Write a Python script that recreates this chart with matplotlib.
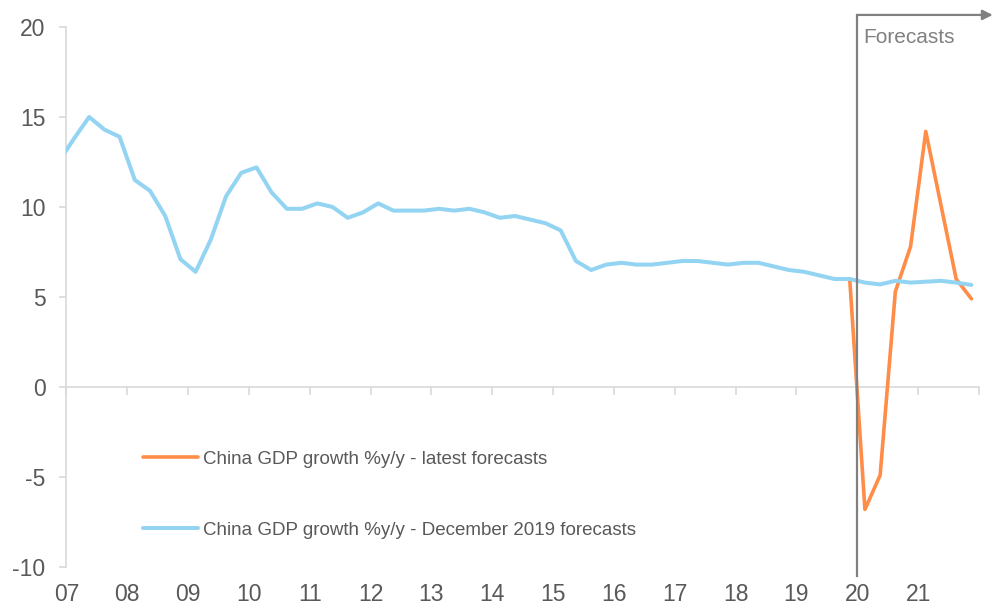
import numpy as np
import matplotlib
matplotlib.use("Agg")
import matplotlib.pyplot as plt

plt.rcParams['font.family'] = ['Liberation Sans', 'DejaVu Sans']
plt.rcParams['axes.unicode_minus'] = False

# quarterly, starting 2006 Q4 (first point sits just left of the axis and is clipped)
dec2019_fc = [12.5,
              13.8, 15.0, 14.3, 13.9,
              11.5, 10.9, 9.5, 7.1,
              6.4, 8.2, 10.6, 11.9,
              12.2, 10.8, 9.9, 9.9,
              10.2, 10.0, 9.4, 9.7,
              10.2, 9.8, 9.8, 9.8,
              9.9, 9.8, 9.9, 9.7,
              9.4, 9.5, 9.3, 9.1,
              8.7, 7.0, 6.5, 6.8,
              6.9, 6.8, 6.8, 6.9,
              7.0, 7.0, 6.9, 6.8,
              6.9, 6.9, 6.7, 6.5,
              6.4, 6.2, 6.0, 6.0,
              5.8, 5.7, 5.9, 5.8,
              5.85, 5.9, 5.8, 5.67]
# latest forecasts, 2019 Q4 .. 2021 Q4
latest_fc = [6.0, -6.8, -4.9, 5.3, 7.8, 14.2, 10.1, 6.0, 4.9]
latest_start = 51  # quarter index of 2019 Q4 (0 = 2007 Q1)

year_labels = ["07", "08", "09", "10", "11", "12", "13", "14",
               "15", "16", "17", "18", "19", "20", "21"]

label_latest = "China GDP growth %y/y - latest forecasts"
label_dec = "China GDP growth %y/y - December 2019 forecasts"

blue = "#93d4f3"
orange = "#ff8c47"
axis_grey = "#d9d9d9"
text_grey = "#595959"

fig = plt.figure(figsize=(9.92, 6.08), dpi=100)
ax = fig.add_axes([0.0669, 0.0674, 0.92, 0.8882])

x_dec = np.arange(len(dec2019_fc)) - 1 + 0.5
x_lat = np.arange(len(latest_fc)) + latest_start + 0.5

l1, = ax.plot(x_lat, latest_fc, color=orange, lw=2.6, zorder=3,
              solid_capstyle='round', label=label_latest)
l2, = ax.plot(x_dec, dec2019_fc, color=blue, lw=2.9, zorder=4,
              solid_capstyle='round', label=label_dec)

ax.set_xlim(0, 60)
ax.set_ylim(-10, 20)

ax.spines['top'].set_visible(False)
ax.spines['right'].set_visible(False)
ax.spines['bottom'].set_position(('data', 0))
for s in ['left', 'bottom']:
    ax.spines[s].set_color(axis_grey)
    ax.spines[s].set_linewidth(1.2)

ax.set_yticks(range(-10, 21, 5))
ax.tick_params(axis='y', direction='out', length=5, width=1.2, color=axis_grey,
               labelsize=16.5, labelcolor=text_grey, pad=10)
ax.set_xticks(range(0, 61, 4))
ax.tick_params(axis='x', direction='out', length=6, width=1.2, color=axis_grey,
               labelbottom=False)

for i, lab in enumerate(year_labels):
    ax.text(i * 4, -11.55, lab, ha='center', va='center', fontsize=16.5,
            color=text_grey, clip_on=False)

# forecast marker
fc_x = 52
ax.plot([fc_x, fc_x], [-10.5, 20.67], color="#808080", lw=1.6, clip_on=False, zorder=5)
ax.annotate('', xy=(60.9, 20.67), xytext=(fc_x, 20.67),
            arrowprops=dict(arrowstyle='-|>,head_length=0.6,head_width=0.3',
                            color="#808080", lw=1.6, shrinkA=0, shrinkB=0),
            annotation_clip=False)
ax.text(fc_x + 0.4, 19.13, "Forecasts", fontsize=15, color="#808080",
        ha='left', va='baseline')

ax.legend(handles=[l1, l2], loc='upper left', bbox_to_anchor=(0.0845, 0.215),
          frameon=False, fontsize=13.5, labelcolor=text_grey, handlelength=2.9,
          handletextpad=0.3, labelspacing=2.85, borderpad=0, borderaxespad=0)

fig.savefig("out.png", dpi=100)
